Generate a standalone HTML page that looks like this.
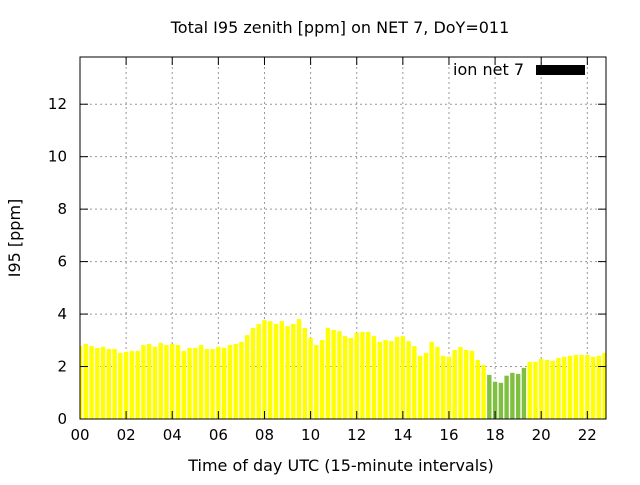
<!DOCTYPE html>
<html><head><meta charset="utf-8"><style>
html,body{margin:0;padding:0;background:#fff}
text{font-family:"DejaVu Sans","Liberation Sans",sans-serif;fill:#000}
</style></head><body>
<svg id="chart" width="640" height="480" xmlns="http://www.w3.org/2000/svg">
<text x="340" y="33" font-size="16" text-anchor="middle">Total I95 zenith [ppm] on NET 7, DoY=011</text>
<g id="grid"></g>
<g id="bars"></g>
<g id="axes"></g>
<rect x="80" y="57" width="526" height="362" fill="none" stroke="#000" stroke-width="1"/>
<text transform="translate(20,238) rotate(-90)" font-size="16" text-anchor="middle">I95 [ppm]</text>
<text x="341" y="471" font-size="16" text-anchor="middle">Time of day UTC (15-minute intervals)</text>
<g>
<text x="524" y="75" font-size="16" text-anchor="end">ion net 7</text>
<rect x="536" y="65" width="49" height="10" fill="#000"/>
</g>
</svg>
<script>
const values=[2.78,2.86,2.78,2.71,2.75,2.67,2.67,2.52,2.56,2.59,2.59,2.82,2.86,2.75,2.9,2.82,2.86,2.82,2.59,2.71,2.71,2.82,2.67,2.67,2.75,2.71,2.82,2.86,2.94,3.2,3.47,3.62,3.77,3.73,3.62,3.73,3.54,3.62,3.81,3.47,3.09,2.82,3.01,3.47,3.39,3.35,3.16,3.09,3.28,3.32,3.32,3.16,2.94,3.01,2.97,3.13,3.16,2.97,2.78,2.41,2.52,2.94,2.75,2.41,2.37,2.63,2.75,2.63,2.6,2.25,2.06,1.68,1.42,1.38,1.65,1.76,1.72,1.95,2.18,2.18,2.29,2.25,2.22,2.33,2.37,2.41,2.44,2.44,2.44,2.37,2.41,2.52];
const highlighted=[71,72,73,74,75,76,77];
const yTicks=[0,2,4,6,8,10,12];
const xTicks=["00","02","04","06","08","10","12","14","16","18","20","22"];
const NS="http://www.w3.org/2000/svg";
const L=80,R=606,T=57,B=419,XMAX=22.81,YMAX=13.8;
function xs(h){return L+h*(R-L)/XMAX;}
function ys(v){return B-v*(B-T)/YMAX;}
function mk(tag,attrs,parent){const e=document.createElementNS(NS,tag);for(const k in attrs)e.setAttribute(k,attrs[k]);document.getElementById(parent).appendChild(e);return e;}
yTicks.forEach(v=>{
  const y=ys(v);
  if(v>0){const g=mk('line',{x1:L,x2:R,y1:y,y2:y,stroke:'#999','stroke-dasharray':'2,3'},'grid');
  
  }
  const t1=mk('line',{x1:L,x2:L+8,y1:y,y2:y,stroke:'#000'},'axes');
  
  
  const t2=mk('line',{x1:R-8,x2:R,y1:y,y2:y,stroke:'#000'},'axes');
  
  
  const tx=mk('text',{x:L-13,y:y+5,'font-size':'15','text-anchor':'end'},'axes');
  tx.textContent=v;
  
  
});
xTicks.forEach(lab=>{
  const x=xs(parseInt(lab,10));
  if(x>L){const g=mk('line',{x1:x,x2:x,y1:T,y2:B,stroke:'#999','stroke-dasharray':'2,3'},'grid');
  
  }
  const t1=mk('line',{x1:x,x2:x,y1:B-8,y2:B,stroke:'#000'},'axes');
  
  
  const t2=mk('line',{x1:x,x2:x,y1:T,y2:T+8,stroke:'#000'},'axes');
  
  
  const tx=mk('text',{x:x,y:B+21,'font-size':'15','text-anchor':'middle'},'axes');
  tx.textContent=lab;
  
  
});
const bw=4.4;
values.forEach((v,i)=>{
  const cx=xs(i*0.25);
  let x0=Math.max(L,cx-bw/2),x1=Math.min(R,cx+bw/2);
  if(x1<=x0)return;
  const b=mk('rect',{x:x0,y:ys(v),width:x1-x0,height:B-ys(v),fill:highlighted.includes(i)?'#80c040':'#ffff00'},'bars');
  
  
});
</script>
</body></html>
